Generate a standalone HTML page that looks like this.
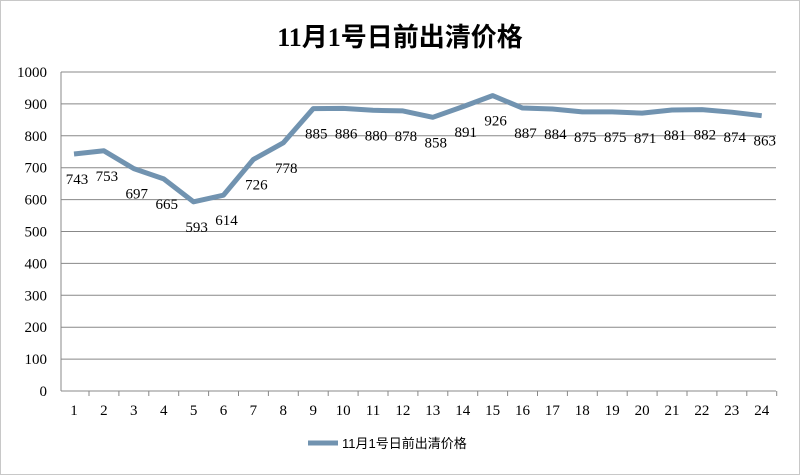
<!DOCTYPE html><html><head><meta charset="utf-8"><style>body{margin:0;background:#fff}svg{display:block}</style></head><body>
<svg id="s" width="800" height="475" xmlns="http://www.w3.org/2000/svg" font-family="'Liberation Serif','Noto Serif CJK SC',serif">
<rect x="0.5" y="0.5" width="799" height="474" fill="#fff" stroke="#c8c8c8"/>
<text x="400" y="46" text-anchor="middle" font-size="26" font-weight="bold" font-family="'Liberation Serif','Noto Sans CJK SC',serif">11月1号日前出清价格</text>
<g id="g"></g>
<line x1="308" y1="443" x2="338" y2="443" stroke="#7193b0" stroke-width="5"/>
<text x="342" y="448" font-size="13" font-family="'Liberation Sans','Noto Sans CJK SC',sans-serif">11月1号日前出清价格</text>
</svg>
<script>
var v=[743,753,697,665,593,614,726,778,885,886,880,878,858,891,926,887,884,875,875,871,881,882,874,863];
var g=document.getElementById('g'),h='';
function Y(a){return 391-a*0.319;}
for(var k=0;k<=10;k++){var y=Y(k*100);h+='<line x1="61" x2="776" y1="'+y+'" y2="'+y+'" stroke="#888" stroke-width="1"/>';h+='<text x="47" y="'+(y+5)+'" text-anchor="end" font-size="15">'+(k*100)+'</text>';}
h+='<line x1="61" x2="61" y1="72" y2="391" stroke="#888"/>';
var p='';
for(var i=0;i<24;i++){var x=74+i*29.9;h+='<text x="'+x+'" y="415" text-anchor="middle" font-size="15">'+(i+1)+'</text>';h+='<line x1="'+(x+15)+'" x2="'+(x+15)+'" y1="391" y2="396" stroke="#888"/>';p+=(i?'L':'M')+x+' '+Y(v[i]);}
h+='<path d="'+p+'" fill="none" stroke="#7193b0" stroke-width="5" stroke-linejoin="round"/>';
for(var i=0;i<24;i++){var x=74+i*29.9;h+='<text x="'+(x+3)+'" y="'+(Y(v[i])+30)+'" text-anchor="middle" font-size="15">'+v[i]+'</text>';}
g.innerHTML=h;
</script>
</body></html>
